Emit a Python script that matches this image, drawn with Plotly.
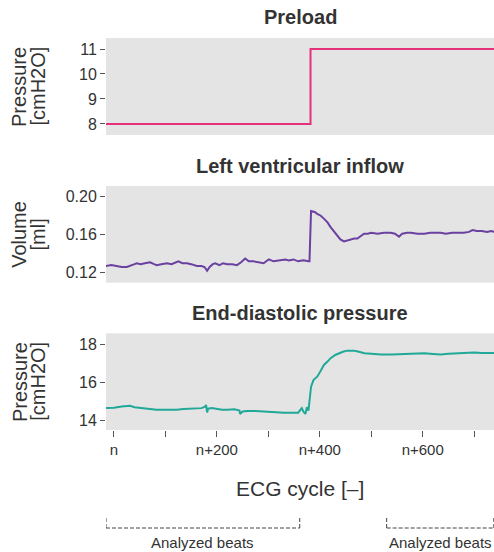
import plotly.graph_objects as go
from plotly.subplots import make_subplots

# ---------------- data ----------------
preload_cycle = [-16, 382, 739]
preload_value = [8, 11, 11]

lv_cycle = [-16, -5, 5, 15, 25, 31, 40, 44, 52, 60, 70, 78, 83, 92, 103, 112, 120, 125, 133, 142,
            150, 161, 170, 176, 181, 186, 192, 197, 205, 212, 220, 230, 239, 247, 255, 262, 271, 280,
            291, 296, 301, 310, 323, 333, 340, 349, 358, 368, 378, 380, 383, 390, 395, 402, 408, 415,
            421, 428, 434, 440, 447, 453, 460, 467, 473, 480, 486, 493, 500, 512, 525, 538, 546, 554,
            560, 570, 577, 590, 603, 615, 625, 635, 645, 657, 668, 680, 690, 697, 705, 715, 725, 733, 739]
lv_volume = [0.127, 0.128, 0.127, 0.126, 0.126, 0.127, 0.129, 0.130, 0.129, 0.130, 0.131, 0.129, 0.128,
             0.129, 0.130, 0.129, 0.131, 0.132, 0.130, 0.130, 0.129, 0.127, 0.127, 0.126, 0.122, 0.126,
             0.129, 0.130, 0.128, 0.130, 0.129, 0.129, 0.128, 0.131, 0.135, 0.132, 0.132, 0.131, 0.130,
             0.132, 0.134, 0.132, 0.133, 0.134, 0.133, 0.134, 0.132, 0.133, 0.132, 0.132, 0.185, 0.184,
             0.182, 0.180, 0.177, 0.173, 0.168, 0.163, 0.158, 0.155, 0.153, 0.154, 0.155, 0.156, 0.156,
             0.159, 0.161, 0.161, 0.162, 0.161, 0.162, 0.162, 0.161, 0.158, 0.161, 0.162, 0.162, 0.161,
             0.161, 0.162, 0.162, 0.162, 0.161, 0.162, 0.162, 0.162, 0.163, 0.165, 0.164, 0.164, 0.163,
             0.164, 0.163]

edp_cycle = [-16, 0, 15, 31, 40, 52, 65, 83, 100, 122, 135, 148, 160, 170, 177, 179, 181, 183, 190,
             200, 210, 220, 234, 244, 245, 250, 260, 275, 290, 300, 315, 330, 345, 358, 365, 368, 372,
             375, 378, 380, 383, 388, 395, 401, 408, 415, 421, 430, 434, 445, 453, 466, 474, 480, 487,
             500, 519, 540, 564, 580, 603, 620, 635, 650, 668, 685, 700, 715, 733, 739]
edp_pressure = [14.63, 14.65, 14.72, 14.75, 14.68, 14.63, 14.60, 14.54, 14.55, 14.54, 14.58, 14.60,
                14.60, 14.63, 14.70, 14.80, 14.40, 14.60, 14.63, 14.58, 14.55, 14.54, 14.57, 14.50,
                14.32, 14.45, 14.48, 14.48, 14.44, 14.43, 14.41, 14.39, 14.39, 14.39, 14.63, 14.45,
                14.32, 14.68, 14.50, 15.00, 15.77, 16.13, 16.30, 16.57, 16.92, 17.10, 17.28, 17.45,
                17.50, 17.62, 17.68, 17.68, 17.63, 17.58, 17.54, 17.52, 17.47, 17.48, 17.50, 17.52,
                17.54, 17.50, 17.47, 17.52, 17.54, 17.56, 17.58, 17.55, 17.54, 17.55]

panel_titles = ["Preload", "Left ventricular inflow", "End-diastolic pressure"]
y_titles = [("Pressure", "[cmH2O]"), ("Volume", "[ml]"), ("Pressure", "[cmH2O]")]
x_tickvals = [0, 100, 200, 300, 400, 500, 600, 700]
x_ticktext = ["n", "", "n+200", "", "n+400", "", "n+600", ""]
x_title = "ECG cycle [–]"
brackets = [(-15.5, 361), (530, 738.3)]
bracket_label = "Analyzed beats"

# ---------------- figure ----------------
FONT = "Liberation Sans, Arial, sans-serif"
TXT = "#333333"
colors = ["#E5317A", "#6A40A0", "#20A898"]

fig = make_subplots(rows=3, cols=1, shared_xaxes=True)
fig.add_trace(go.Scatter(x=preload_cycle, y=preload_value, mode="lines", line=dict(color=colors[0], width=2, shape="hv")), row=1, col=1)
fig.add_trace(go.Scatter(x=lv_cycle, y=lv_volume, mode="lines", line=dict(color=colors[1], width=2)), row=2, col=1)
fig.add_trace(go.Scatter(x=edp_cycle, y=edp_pressure, mode="lines", line=dict(color=colors[2], width=2)), row=3, col=1)

domains = [[0.7526, 1.0], [0.3758, 0.6224], [0.0, 0.2467]]
yranges = [[7.56, 11.44], [0.1095, 0.2113], [13.47, 18.6]]
yticks = [[8, 9, 10, 11], [0.12, 0.16, 0.20], [14, 16, 18]]
yfmt = [None, ".2f", None]

xr = [-15.5, 738.6]
for i in range(3):
    ax = "yaxis" if i == 0 else f"yaxis{i+1}"
    fig.layout[ax].update(domain=domains[i], range=yranges[i], tickvals=yticks[i],
                          tickformat=yfmt[i], ticks="outside", ticklen=5, tickcolor="#555555",
                          showgrid=False, zeroline=False, showline=False,
                          tickfont=dict(family=FONT, size=16, color=TXT))
    xa = "xaxis" if i == 0 else f"xaxis{i+1}"
    fig.layout[xa].update(range=xr, showgrid=False, zeroline=False, showline=False,
                          showticklabels=(i == 2), ticks=("outside" if i == 2 else ""))
fig.layout.xaxis3.update(tickvals=x_tickvals, ticktext=x_ticktext, ticklen=6, tickcolor="#555555",
                         tickfont=dict(family=FONT, size=15, color=TXT))

ann = []
title_y = [1.0536, 0.6735, 0.2985]
for i, t in enumerate(panel_titles):
    ann.append(dict(text=f"<b>{t}</b>", x=0.5, y=title_y[i], xref="paper", yref="paper",
                    xanchor="center", yanchor="middle", showarrow=False,
                    font=dict(family=FONT, size=20, color=TXT)))
for i, (a, b) in enumerate(y_titles):
    yc = sum(domains[i]) / 2
    ann.append(dict(text=a, x=-0.223, y=yc, xref="paper", yref="paper", textangle=-90,
                    xanchor="center", yanchor="middle", showarrow=False,
                    font=dict(family=FONT, size=20, color=TXT)))
    ann.append(dict(text=b, x=-0.175, y=yc, xref="paper", yref="paper", textangle=-90,
                    xanchor="center", yanchor="middle", showarrow=False,
                    font=dict(family=FONT, size=20, color=TXT)))
ann.append(dict(text=x_title, x=0.5, y=-0.148, xref="paper", yref="paper", xanchor="center",
                yanchor="middle", showarrow=False, font=dict(family=FONT, size=21, color=TXT)))

shapes = []
for (x0, x1) in brackets:
    line = dict(color="#444444", width=1, dash="4px,2px")
    shapes.append(dict(type="line", xref="x3", yref="paper", x0=x0, x1=x1, y0=-0.25, y1=-0.25, line=line))
    shapes.append(dict(type="line", xref="x3", yref="paper", x0=x0, x1=x0, y0=-0.25, y1=-0.222, line=line))
    shapes.append(dict(type="line", xref="x3", yref="paper", x0=x1, x1=x1, y0=-0.25, y1=-0.222, line=line))
    ann.append(dict(text=bracket_label, x=(x0 + x1) / 2, y=-0.288, xref="x3", yref="paper",
                    xanchor="center", yanchor="middle", showarrow=False,
                    font=dict(family=FONT, size=15, color=TXT)))

fig.update_layout(width=494, height=552, margin=dict(l=106, r=0, t=38, b=122),
                  paper_bgcolor="white", plot_bgcolor="#E4E4E4", showlegend=False,
                  annotations=ann, shapes=shapes)

fig.write_html("out.html", config={"displayModeBar": False},
               post_script="document.body.style.margin='0';document.body.style.overflow='hidden';")
